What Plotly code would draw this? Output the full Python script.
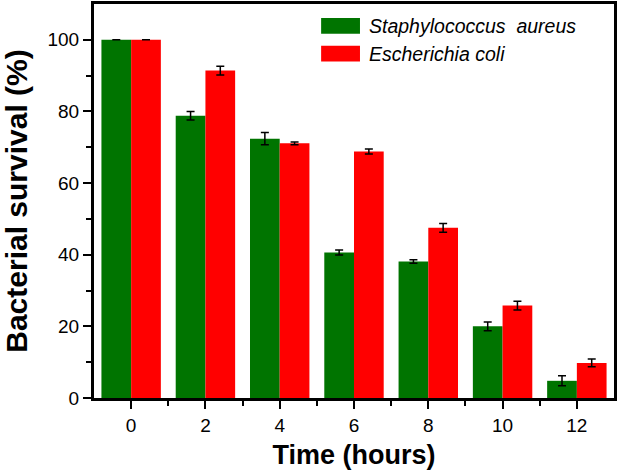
import plotly.graph_objects as go

hours = [0, 2, 4, 6, 8, 10, 12]
staph = [100, 78.8, 72.4, 40.6, 38.1, 20.0, 4.8]
staph_err = [None, 1.2, 1.7, 0.7, 0.5, 1.2, 1.4]
ecoli = [100, 91.4, 71.1, 68.8, 47.5, 25.8, 9.8]
ecoli_err = [None, 1.2, 0.4, 0.7, 1.2, 1.2, 1.1]
series_names = ["Staphylococcus  aureus", "Escherichia coli"]
colors = ["#007400", "#ff0000"]

fig = go.Figure()
for name, vals, errs, col in [(series_names[0], staph, staph_err, colors[0]),
                              (series_names[1], ecoli, ecoli_err, colors[1])]:
    fig.add_trace(go.Bar(
        x=hours, y=vals, name=name, marker=dict(color=col, line=dict(width=0)),
        error_y=dict(type="data", array=errs, visible=True, color="black", thickness=1.5, width=4),
        showlegend=False,
    ))

font_family = "Liberation Sans, Arial, sans-serif"
fig.update_layout(
    width=618, height=470,
    margin=dict(l=94, r=2, t=1, b=72),
    paper_bgcolor="white", plot_bgcolor="white",
    barmode="group", bargap=0.2, bargroupgap=0,
    font=dict(family=font_family, color="black"),
    xaxis=dict(
        range=[-1, 13], tickvals=hours, ticktext=[str(h) for h in hours],
        ticks="outside", ticklen=8, tickwidth=2, tickcolor="black",
        minor=dict(tickvals=[1, 3, 5, 7, 9, 11], ticks="outside", ticklen=5, tickwidth=2, tickcolor="black"),
        showline=True, linewidth=3, linecolor="black", mirror=True,
        showgrid=False, zeroline=False,
        tickfont=dict(size=19, family=font_family),
        title=dict(text="<b>Time (hours)</b>", font=dict(size=27, family=font_family), standoff=11),
    ),
    yaxis=dict(
        range=[0, 110], tickvals=[0, 20, 40, 60, 80, 100],
        ticks="outside", ticklen=8, tickwidth=2, tickcolor="black",
        minor=dict(tickvals=[10, 30, 50, 70, 90], ticks="outside", ticklen=5, tickwidth=2, tickcolor="black"),
        showline=True, linewidth=3, linecolor="black", mirror=True,
        showgrid=False, zeroline=False,
        tickfont=dict(size=19, family=font_family),
        title=dict(text="<b>Bacterial survival (%)</b>", font=dict(size=30, family=font_family), standoff=18),
    ),
)

# manual legend (wide swatches)
legend_rows = [(23, series_names[0], colors[0]), (51, series_names[1], colors[1])]
for ypix, name, col in legend_rows:
    y0 = 1 - (ypix + 8 - 1) / 397
    y1 = 1 - (ypix - 8 - 1) / 397
    x0 = (322 - 94) / 522
    x1 = (361 - 94) / 522
    fig.add_shape(type="rect", xref="paper", yref="paper", x0=x0, x1=x1, y0=y0, y1=y1,
                  fillcolor=col, line=dict(width=0))
    fig.add_annotation(xref="paper", yref="paper", x=(368 - 94) / 522, y=1 - (ypix - 1) / 397,
                       text="<i>" + name.replace("  ", "&nbsp; ") + "</i>", showarrow=False,
                       xanchor="left", yanchor="middle", font=dict(size=19.5, family=font_family))

fig.write_html("out.html", config={"displayModeBar": False},
               post_script="document.body.style.margin='0';document.body.style.overflow='hidden';")
